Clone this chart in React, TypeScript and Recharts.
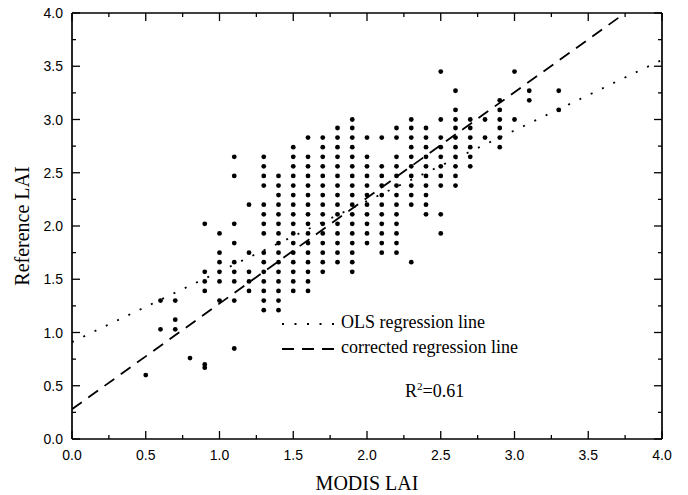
import React from "react";
import { ScatterChart, Scatter, XAxis, YAxis, Legend } from "recharts";

// MODIS LAI columns (x) and the reference LAI values read in each column (y)
const modisLai = [
  0.5, 0.6, 0.7, 0.8, 0.9, 1.0, 1.1, 1.2, 1.3, 1.4, 1.5, 1.6, 1.7, 1.8, 1.9,
  2.0, 2.1, 2.2, 2.3, 2.4, 2.5, 2.6, 2.7, 2.8, 2.9, 3.0, 3.1, 3.3,
];

const referenceLai = [
  [0.6],
  [1.3, 1.03],
  [1.3, 1.12, 1.03],
  [0.76],
  [2.02, 1.57, 1.48, 1.39, 0.7, 0.67],
  [1.93, 1.75, 1.66, 1.57, 1.48, 1.3],
  [2.65, 2.47, 2.02, 1.84, 1.66, 1.57, 1.48, 1.3, 0.85],
  [2.2, 1.75, 1.57, 1.48, 1.39],
  [2.65, 2.56, 2.47, 2.38, 2.2, 2.11, 2.02, 1.93, 1.75, 1.66, 1.57, 1.48, 1.39, 1.3, 1.21],
  [2.47, 2.38, 2.29, 2.2, 2.11, 2.02, 1.93, 1.84, 1.75, 1.66, 1.57, 1.48, 1.39, 1.3, 1.21],
  [2.74, 2.65, 2.56, 2.47, 2.38, 2.29, 2.2, 2.11, 2.02, 1.93, 1.84, 1.75, 1.66, 1.57, 1.48, 1.39],
  [2.83, 2.65, 2.56, 2.47, 2.38, 2.29, 2.2, 2.11, 2.02, 1.93, 1.84, 1.75, 1.66, 1.57, 1.48, 1.39],
  [2.83, 2.74, 2.65, 2.56, 2.47, 2.38, 2.29, 2.2, 2.11, 2.02, 1.93, 1.84, 1.75, 1.66, 1.57],
  [2.92, 2.83, 2.74, 2.65, 2.56, 2.47, 2.38, 2.29, 2.2, 2.11, 2.02, 1.93, 1.84, 1.75, 1.66],
  [3.0, 2.92, 2.83, 2.74, 2.65, 2.56, 2.47, 2.38, 2.29, 2.2, 2.11, 2.02, 1.93, 1.84, 1.75, 1.66, 1.57],
  [2.83, 2.65, 2.56, 2.47, 2.38, 2.29, 2.2, 2.11, 2.02, 1.93, 1.84],
  [2.83, 2.56, 2.47, 2.38, 2.29, 2.2, 2.11, 2.02, 1.93, 1.84, 1.75],
  [2.92, 2.83, 2.65, 2.56, 2.47, 2.38, 2.29, 2.2, 2.11, 2.02, 1.93, 1.84, 1.75],
  [3.0, 2.92, 2.83, 2.74, 2.65, 2.56, 2.47, 2.38, 2.29, 2.2, 1.66],
  [2.92, 2.83, 2.74, 2.65, 2.56, 2.47, 2.38, 2.29, 2.2, 2.11],
  [3.45, 3.0, 2.83, 2.74, 2.65, 2.56, 2.47, 2.38, 2.11, 1.93],
  [3.27, 3.09, 3.0, 2.92, 2.83, 2.74, 2.65, 2.56, 2.47, 2.38],
  [3.0, 2.92, 2.83, 2.74, 2.65, 2.56],
  [3.0, 2.83],
  [3.18, 3.09, 3.0, 2.92, 2.83, 2.74],
  [3.45, 3.0],
  [3.27, 3.18],
  [3.27, 3.09],
];

// regression line end points
const olsLine = [
  { modis: 0, reference: 0.91 },
  { modis: 4, reference: 3.56 },
];
const correctedLine = [
  { modis: 0, reference: 0.28 },
  { modis: 3.75, reference: 4.0 },
];

const axisTicks = [
  0, 0.25, 0.5, 0.75, 1, 1.25, 1.5, 1.75, 2, 2.25, 2.5, 2.75, 3, 3.25, 3.5, 3.75, 4,
];

const OLS_NAME = "OLS regression line";
const CORRECTED_NAME = "corrected regression line";
const dashes: Record<string, string> = {
  [OLS_NAME]: "2 10.5",
  [CORRECTED_NAME]: "12 8",
};

const points = modisLai.flatMap((m, i) =>
  referenceLai[i].map((r) => ({ modis: m, reference: r }))
);

const SANS = '"Liberation Sans", Arial, sans-serif';
const SERIF = '"Liberation Serif", "Times New Roman", serif';

const isMajor = (v: number) => Math.abs(v * 2 - Math.round(v * 2)) < 1e-6;
const tickLen = (v: number) => (isMajor(v) ? 8 : 4);

function BottomTick({ x, y, payload }: any) {
  const v = payload.value;
  return (
    <g>
      <line x1={x} x2={x} y1={y} y2={y - tickLen(v)} stroke="#000" strokeWidth={1.3} />
      {isMajor(v) && (
        <text x={x} y={y + 21} textAnchor="middle" fontSize={14} fontFamily={SANS} fill="#000">
          {v.toFixed(1)}
        </text>
      )}
    </g>
  );
}

function TopTick({ x, y, payload }: any) {
  return <line x1={x} x2={x} y1={y} y2={y + tickLen(payload.value)} stroke="#000" strokeWidth={1.3} />;
}

function LeftTick({ x, y, payload }: any) {
  const v = payload.value;
  return (
    <g>
      <line x1={x} x2={x + tickLen(v)} y1={y} y2={y} stroke="#000" strokeWidth={1.3} />
      {isMajor(v) && (
        <text x={x - 9} y={y + 5} textAnchor="end" fontSize={14} fontFamily={SANS} fill="#000">
          {v.toFixed(1)}
        </text>
      )}
    </g>
  );
}

function RightTick({ x, y, payload }: any) {
  return <line x1={x} x2={x - tickLen(payload.value)} y1={y} y2={y} stroke="#000" strokeWidth={1.3} />;
}

const Dot = (p: any) => <circle cx={p.cx} cy={p.cy} r={2.4} fill="#000" />;
const NoShape = () => <g />;

function LegendBox({ payload }: any) {
  const entries = (payload || []).filter((e: any) => e.value in dashes);
  return (
    <div style={{ position: "relative", width: 230, height: 110, fontFamily: SERIF, fontSize: 18, color: "#000" }}>
      {entries.map((entry: any, i: number) => (
        <div key={entry.value} style={{ position: "absolute", left: 0, top: i * 25, height: 25, lineHeight: "25px", whiteSpace: "nowrap" }}>
          <svg width={57} height={25} style={{ position: "absolute", left: 0, top: 0 }}>
            <line x1={0} x2={57} y1={14} y2={14} stroke="#000" strokeWidth={1.8} strokeDasharray={dashes[entry.value]} />
          </svg>
          <span style={{ position: "absolute", left: 59, top: 0 }}>{entry.value}</span>
        </div>
      ))}
      <div style={{ position: "absolute", left: 123, top: 69, lineHeight: "25px", whiteSpace: "nowrap" }}>
        R<sup style={{ fontSize: 11, verticalAlign: "7px", lineHeight: 0 }}>2</sup>=0.61
      </div>
    </div>
  );
}

export default function App() {
  return (
    <div style={{ position: "absolute", left: 0, top: 0, width: 688, height: 495, background: "#fff" }}>
      <ScatterChart width={688} height={495} margin={{ top: 12, right: 25, bottom: 0, left: 0 }}>
        <XAxis
          dataKey="modis"
          type="number"
          domain={[0, 4]}
          allowDataOverflow
          ticks={axisTicks}
          interval={0}
          height={56}
          tickSize={0}
          tickMargin={0}
          tickLine={false}
          tick={BottomTick}
          axisLine={{ stroke: "#000", strokeWidth: 1.7 }}
          label={{ value: "MODIS LAI", position: "insideBottom", offset: 5, style: { fontFamily: SERIF, fontSize: 20, fill: "#000" } }}
        />
        <XAxis
          xAxisId="top"
          orientation="top"
          dataKey="modis"
          type="number"
          domain={[0, 4]}
          allowDataOverflow
          ticks={axisTicks}
          interval={0}
          height={1}
          tickSize={0}
          tickMargin={0}
          tickLine={false}
          tick={TopTick}
          axisLine={{ stroke: "#000", strokeWidth: 1.7 }}
        />
        <YAxis
          dataKey="reference"
          type="number"
          domain={[0, 4]}
          allowDataOverflow
          ticks={axisTicks}
          interval={0}
          width={72}
          tickSize={0}
          tickMargin={0}
          tickLine={false}
          tick={LeftTick}
          axisLine={{ stroke: "#000", strokeWidth: 1.7 }}
          label={{ value: "Reference LAI", angle: -90, position: "insideLeft", offset: 22, style: { fontFamily: SERIF, fontSize: 20, fill: "#000", textAnchor: "middle" } }}
        />
        <YAxis
          yAxisId="right"
          orientation="right"
          dataKey="reference"
          type="number"
          domain={[0, 4]}
          allowDataOverflow
          ticks={axisTicks}
          interval={0}
          width={1}
          tickSize={0}
          tickMargin={0}
          tickLine={false}
          tick={RightTick}
          axisLine={{ stroke: "#000", strokeWidth: 1.7 }}
        />
        <Scatter
          name="LAI"
          data={points}
          fill="#000"
          shape={Dot}
          legendType="none"
          isAnimationActive={false}
        />
        <Scatter
          name={OLS_NAME}
          data={olsLine}
          xAxisId="top"
          yAxisId="right"
          fill="#000"
          shape={NoShape}
          line={{ stroke: "#000", strokeWidth: 1.8, strokeDasharray: dashes[OLS_NAME] }}
          isAnimationActive={false}
        />
        <Scatter
          name={CORRECTED_NAME}
          data={correctedLine}
          xAxisId="top"
          yAxisId="right"
          fill="#000"
          shape={NoShape}
          line={{ stroke: "#000", strokeWidth: 1.8, strokeDasharray: dashes[CORRECTED_NAME] }}
          isAnimationActive={false}
        />
        <Legend
          layout="vertical"
          verticalAlign="middle"
          align="center"
          wrapperStyle={{ left: 282, top: 310, width: 230, height: 110 }}
          content={LegendBox}
        />
      </ScatterChart>
    </div>
  );
}
